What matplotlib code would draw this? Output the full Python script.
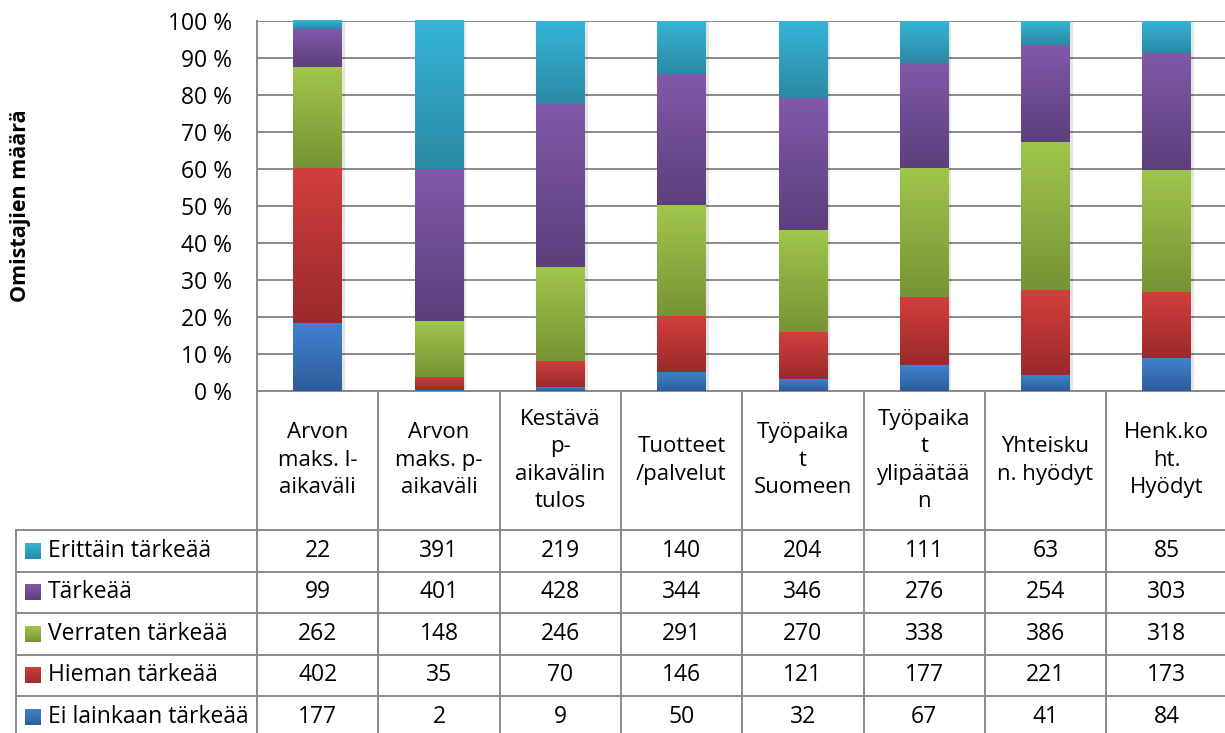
import numpy as np
import matplotlib
matplotlib.use("Agg")
import matplotlib.pyplot as plt
from matplotlib.colors import LinearSegmentedColormap

plt.rcParams['font.family'] = ['Open Sans', 'DejaVu Sans']

categories = ["Arvon\nmaks. l-\naikaväli", "Arvon\nmaks. p-\naikaväli", "Kestävä\np-\naikavälin\ntulos",
              "Tuotteet\n/palvelut", "Työpaika\nt\nSuomeen", "Työpaika\nt\nylipäätää\nn",
              "Yhteisku\nn. hyödyt", "Henk.ko\nht.\nHyödyt"]

# series from bottom of the stack to the top
series_names = ["Ei lainkaan tärkeää", "Hieman tärkeää", "Verraten tärkeää", "Tärkeää", "Erittäin tärkeää"]
ei_lainkaan = [177, 2, 9, 50, 32, 67, 41, 84]
hieman = [402, 35, 70, 146, 121, 177, 221, 173]
verraten = [262, 148, 246, 291, 270, 338, 386, 318]
tarkeaa = [99, 401, 428, 344, 346, 276, 254, 303]
erittain = [22, 391, 219, 140, 204, 111, 63, 85]

# (top colour, bottom colour) of each gradient fill
grad_colors = [("#3f82cf", "#2d5d99"),
               ("#d13f3c", "#9a2a2b"),
               ("#a0c64b", "#769434"),
               ("#8059a9", "#5c3f7c"),
               ("#35b5d8", "#2a8aa3")]

counts = np.array([ei_lainkaan, hieman, verraten, tarkeaa, erittain], dtype=float)
shares = counts / counts.sum(axis=0) * 100

W, H = 1225, 733
fig = plt.figure(figsize=(W / 100, H / 100), dpi=100)

px_left, px_right, px_top, px_bot = 257, 1227.4, 20.5, 390.7
ax = fig.add_axes([px_left / W, 1 - px_bot / H, (px_right - px_left) / W, (px_bot - px_top) / H])

grid_c = "#8a8a8a"
x = np.arange(len(categories))
bw = 0.4
grad = np.linspace(1, 0, 64).reshape(-1, 1)

bottom = np.zeros(len(categories))
for i, name in enumerate(series_names):
    # soft drop shadow on the right
    ax.bar(x + 0.025, shares[i], bw, bottom=bottom - 0.3, color="#000000", alpha=0.10, zorder=2, linewidth=0)
    bars = ax.bar(x, shares[i], bw, bottom=bottom, color=grad_colors[i][0], zorder=3, linewidth=0)
    cmap = LinearSegmentedColormap.from_list(name, [grad_colors[i][1], grad_colors[i][0]])
    for b in bars:
        x0, y0 = b.get_x(), b.get_y()
        im = ax.imshow(grad, cmap=cmap, vmin=0, vmax=1, aspect="auto", interpolation="bicubic",
                       extent=[x0, x0 + b.get_width(), y0, y0 + b.get_height()], zorder=4)
        im.set_clip_path(b)
    bottom += shares[i]

ax.set_xlim(-0.5, len(categories) - 0.5)
ax.set_ylim(0, 100)
ax.set_yticks(np.arange(0, 101, 10))
ax.set_yticklabels([f"{v} %" for v in range(0, 101, 10)], fontsize=16.5)
ax.tick_params(axis="y", length=0, pad=18)
ax.set_xticks([])
ax.yaxis.grid(True, color=grid_c, linewidth=1.4, zorder=0)
ax.set_axisbelow(True)
for s in ["top", "right"]:
    ax.spines[s].set_visible(False)
for s in ["left", "bottom"]:
    ax.spines[s].set_color(grid_c)
    ax.spines[s].set_linewidth(1.4)

fig.text(21 / W, 1 - 205.6 / H, "Omistajien määrä", rotation=90, ha="center", va="center",
         fontsize=15.5, fontweight="bold")

# data table under the plot, drawn in pixel coordinates
tab = fig.add_axes([0, 0, 1, 1], zorder=-1)
tab.set_xlim(0, W)
tab.set_ylim(H, 0)
tab.axis("off")

col_w = (px_right - px_left) / len(categories)
col_edges = [px_left + k * col_w for k in range(len(categories) + 1)]
head_bot = 530
row_h = 41.5
row_edges = [head_bot + k * row_h for k in range(len(series_names) + 1)]
tab_left = 16

lw = 1.4
for xe in col_edges:
    tab.plot([xe, xe], [px_bot, row_edges[-1]], color=grid_c, lw=lw, solid_capstyle="butt")
tab.plot([tab_left, tab_left], [head_bot, row_edges[-1]], color=grid_c, lw=lw)
for ye in row_edges:
    tab.plot([tab_left, col_edges[-1]], [ye, ye], color=grid_c, lw=lw)

for j, lab in enumerate(categories):
    tab.text(col_edges[j] + col_w / 2, (px_bot + head_bot) / 2, lab, ha="center", va="center",
             fontsize=16, linespacing=1.4)

# table rows go top to bottom, i.e. reversed stack order
for r, i in enumerate(range(len(series_names) - 1, -1, -1)):
    yc = row_edges[r] + row_h / 2
    cmap = LinearSegmentedColormap.from_list("k", [grad_colors[i][1], grad_colors[i][0]])
    tab.imshow(grad, cmap=cmap, vmin=0, vmax=1, aspect="auto", interpolation="bicubic",
               extent=[25, 41, yc + 8, yc - 8])
    tab.text(48, yc, series_names[i], ha="left", va="center", fontsize=16.5)
    for j in range(len(categories)):
        tab.text(col_edges[j] + col_w / 2, yc, f"{int(counts[i, j])}", ha="center", va="center", fontsize=16.5)
tab.set_xlim(0, W)
tab.set_ylim(H, 0)

fig.savefig("out.png", dpi=100)
